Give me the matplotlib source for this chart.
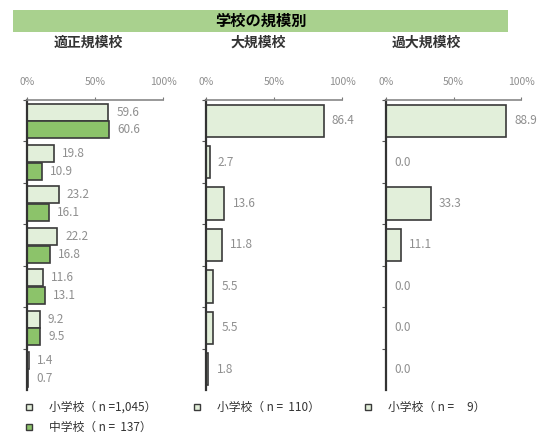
"""School-size breakdown: horizontal bar panels by school size."""

import matplotlib.pyplot as plt
from matplotlib.patches import Rectangle

plt.rcParams["font.family"] = ["Noto Sans CJK JP", "DejaVu Sans"]

TITLE = "学校の規模別"
PANEL_TITLES = ["適正規模校", "大規模校", "過大規模校"]
N_GROUPS = 7

# panel 1: elementary and junior high
proper_elem = [59.6, 19.8, 23.2, 22.2, 11.6, 9.2, 1.4]
proper_junior = [60.6, 10.9, 16.1, 16.8, 13.1, 9.5, 0.7]
# panel 2 and 3: elementary only
large_elem = [86.4, 2.7, 13.6, 11.8, 5.5, 5.5, 1.8]
oversize_elem = [88.9, 0.0, 33.3, 11.1, 0.0, 0.0, 0.0]

LEGEND_ROWS = [
    ["小学校（ n =1,045）", "小学校（ n =  110）", "小学校（ n =     9）"],
    ["中学校（ n =  137）"],
]

ELEM_COLOR = "#e2efda"
JUNIOR_COLOR = "#8cc36a"
EDGE = "#3a3a3a"
TEXT_GRAY = "#8f8f8f"

W, H = 559, 447
fig = plt.figure(figsize=(W / 100, H / 100), dpi=100)


def px_axes(x0, y0, x1, y1):
    return fig.add_axes([x0 / W, 1 - y1 / H, (x1 - x0) / W, (y1 - y0) / H])


# title band
band = fig.add_axes([13 / W, 1 - 32 / H, 495 / W, 22 / H])
band.add_patch(Rectangle((0, 0), 1, 1, color="#a9d18e"))
band.set_axis_off()
band.text(0.5, 0.5, TITLE, ha="center", va="center", fontsize=11, fontweight="bold")

panel_x = [(27, 163), (206, 342), (386, 521)]
title_x = [88, 258, 426]
panel_series = [
    [(proper_elem, ELEM_COLOR), (proper_junior, JUNIOR_COLOR)],
    [(large_elem, ELEM_COLOR)],
    [(oversize_elem, ELEM_COLOR)],
]

for (x0, x1), tx, series, title in zip(panel_x, title_x, panel_series, PANEL_TITLES):
    ax = px_axes(x0, 100, x1, 390)
    ax.set_xlim(0, 100)
    ax.set_ylim(N_GROUPS - 0.5, -0.5)
    ys = list(range(N_GROUPS))
    if len(series) == 2:
        height, offsets = 0.41, [-0.21, 0.22]
    else:
        height, offsets = 0.78, [0.0]
    for (vals, color), off in zip(series, offsets):
        pos = [y + off for y in ys]
        ax.barh(pos, vals, height=height, color=color, edgecolor=EDGE, linewidth=1.2)
        for p, v in zip(pos, vals):
            ax.text(v + 6, p, f"{v:.1f}", va="center", ha="left", fontsize=8.5, color=TEXT_GRAY)

    ax.xaxis.tick_top()
    ax.set_xticks([0, 50, 100])
    ax.set_xticklabels(["0%", "50%", "100%"], fontsize=7.5, color=TEXT_GRAY)
    ax.tick_params(axis="x", length=2, pad=7, color="#777777")
    ax.set_yticks([g - 0.5 for g in range(N_GROUPS)])
    ax.set_yticklabels([])
    ax.tick_params(axis="y", length=3, color="#555555")
    for side in ["right", "bottom"]:
        ax.spines[side].set_visible(False)
    ax.spines["top"].set_color("#888888")
    ax.spines["top"].set_linewidth(1.2)
    ax.spines["left"].set_color("#333333")
    ax.spines["left"].set_linewidth(1.6)

    fig.text(tx / W, 1 - 43 / H, title, ha="center", va="center",
             fontsize=10, fontweight="bold", color="#333333")

# legend rows
legend_x = [29, 197, 368]
for row_idx, row in enumerate(LEGEND_ROWS):
    y = 407 + row_idx * 20
    for col_idx, label in enumerate(row):
        mx = legend_x[col_idx]
        color = JUNIOR_COLOR if row_idx == 1 else ELEM_COLOR
        fig.patches.append(Rectangle(((mx - 3) / W, 1 - (y + 3) / H), 6 / W, 6 / H,
                                     transform=fig.transFigure, facecolor=color,
                                     edgecolor=EDGE, linewidth=1))
        fig.text((mx + 20) / W, 1 - y / H, label, ha="left", va="center",
                 fontsize=8.5, color="#333333")

fig.savefig("out.png", dpi=100)
